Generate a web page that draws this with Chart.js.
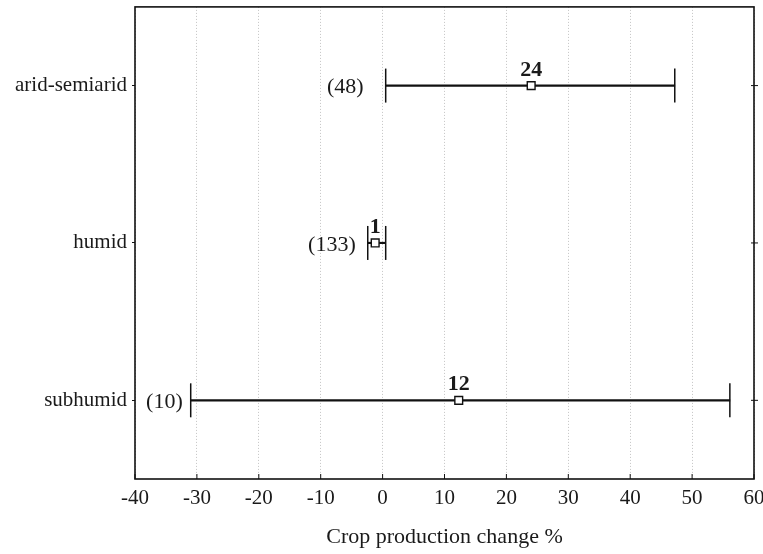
<!DOCTYPE html>
<html>
<head>
<meta charset="utf-8">
<script src="https://cdn.jsdelivr.net/npm/chart.js@4"></script>
<style>
  html, body { margin: 0; padding: 0; background: #ffffff; }
  #wrap { width: 763px; height: 554px; }
</style>
</head>
<body>
<div id="wrap"><canvas id="cropChart" width="763" height="554"></canvas></div>
<script>
const regions = ["arid-semiarid", "humid", "subhumid"];
const meanChange = [24.0, -1.2, 12.3];
const lowerCI = [0.5, -2.4, -31.0];
const upperCI = [47.2, 0.5, 56.1];
const meanLabels = ["24", "1", "12"];
const sampleSizes = ["(48)", "(133)", "(10)"];
const xTicks = [-40, -30, -20, -10, 0, 10, 20, 30, 40, 50, 60];

const serif = "'Liberation Serif', 'DejaVu Serif', serif";

// caps, frame, inner ticks and text labels
const errorBarPlugin = {
    id: "errorBars",
    afterDatasetsDraw(chart, args, opts) {
        const ctx = chart.ctx;
        const xs = chart.scales.x;
        const ys = chart.scales.y;
        const area = chart.chartArea;
        ctx.save();
        ctx.strokeStyle = "#111";
        ctx.lineWidth = 1.5;
        regions.forEach(function (r, i) {
            const y = ys.getPixelForValue(i);
            [lowerCI[i], upperCI[i]].forEach(function (v) {
                const x = xs.getPixelForValue(v);
                ctx.beginPath();
                ctx.moveTo(x, y - 17);
                ctx.lineTo(x, y + 17);
                ctx.stroke();
            });
            ctx.fillStyle = "#1a1a1a";
            ctx.font = "22px " + serif;
            ctx.textAlign = "right";
            ctx.textBaseline = "middle";
            ctx.fillText(sampleSizes[i], xs.getPixelForValue(lowerCI[i]) - opts.gaps[i], y + 2);
            ctx.font = "bold 22px " + serif;
            ctx.textAlign = "center";
            ctx.textBaseline = "alphabetic";
            ctx.fillText(meanLabels[i], xs.getPixelForValue(meanChange[i]), y - 10);
            // right side tick
            ctx.lineWidth = 1;
            ctx.beginPath();
            ctx.moveTo(area.right - 3, y);
            ctx.lineTo(area.right + 4, y);
            ctx.stroke();
            ctx.lineWidth = 1.5;
        });
        // bottom ticks pointing inward
        ctx.lineWidth = 1;
        xTicks.forEach(function (t) {
            const x = xs.getPixelForValue(t);
            ctx.beginPath();
            ctx.moveTo(x, area.bottom);
            ctx.lineTo(x, area.bottom - 5);
            ctx.stroke();
        });
        ctx.lineWidth = 1.6;
        ctx.strokeRect(area.left, area.top, area.right - area.left, area.bottom - area.top);
        ctx.restore();
    }
};

new Chart(document.getElementById("cropChart").getContext("2d"), {
    type: "bar",
    data: {
        labels: regions,
        datasets: [
            {
                label: "CI",
                data: regions.map(function (r, i) { return [lowerCI[i], upperCI[i]]; }),
                backgroundColor: "#111",
                barThickness: 1.5,
                borderWidth: 0,
                order: 2
            },
            {
                type: "line",
                label: "Mean",
                data: meanChange,
                showLine: false,
                pointStyle: "rect",
                pointRadius: 5.5,
                pointBorderWidth: 1.4,
                pointBackgroundColor: "#ffffff",
                pointBorderColor: "#111",
                order: 1
            }
        ]
    },
    options: {
        indexAxis: "y",
        responsive: false,
        animation: false,
        layout: { padding: { top: 6, right: 9, left: 0, bottom: 0 } },
        scales: {
            x: {
                type: "linear",
                min: -40,
                max: 60,
                afterBuildTicks: function (scale) {
                    scale.ticks = xTicks.map(function (v) { return { value: v }; });
                },
                afterFit: function (scale) {
                    scale.height = 75;
                    scale.paddingLeft = 0;
                    scale.paddingRight = 0;
                },
                grid: {
                    color: "#c4c4c4",
                    lineWidth: 1,
                    drawTicks: false
                },
                border: { display: false, dash: [1, 2] },
                ticks: {
                    color: "#1a1a1a",
                    padding: 7,
                    maxRotation: 0,
                    font: { family: serif, size: 21 }
                },
                title: {
                    display: true,
                    text: "Crop production change %",
                    color: "#1a1a1a",
                    padding: { top: 6 },
                    font: { family: serif, size: 22 }
                }
            },
            y: {
                type: "category",
                offset: true,
                afterFit: function (scale) {
                    scale.width = 135;
                    scale.paddingTop = 0;
                    scale.paddingBottom = 0;
                },
                grid: {
                    offset: false,
                    drawOnChartArea: false,
                    drawTicks: true,
                    tickLength: 3,
                    color: "#111"
                },
                border: { display: false },
                ticks: {
                    color: "#1a1a1a",
                    padding: 5,
                    font: { family: serif, size: 21 }
                }
            }
        },
        plugins: {
            legend: { display: false },
            tooltip: { enabled: false },
            errorBars: { gaps: [22, 12, 8] }
        }
    },
    plugins: [errorBarPlugin]
});
</script>
</body>
</html>
